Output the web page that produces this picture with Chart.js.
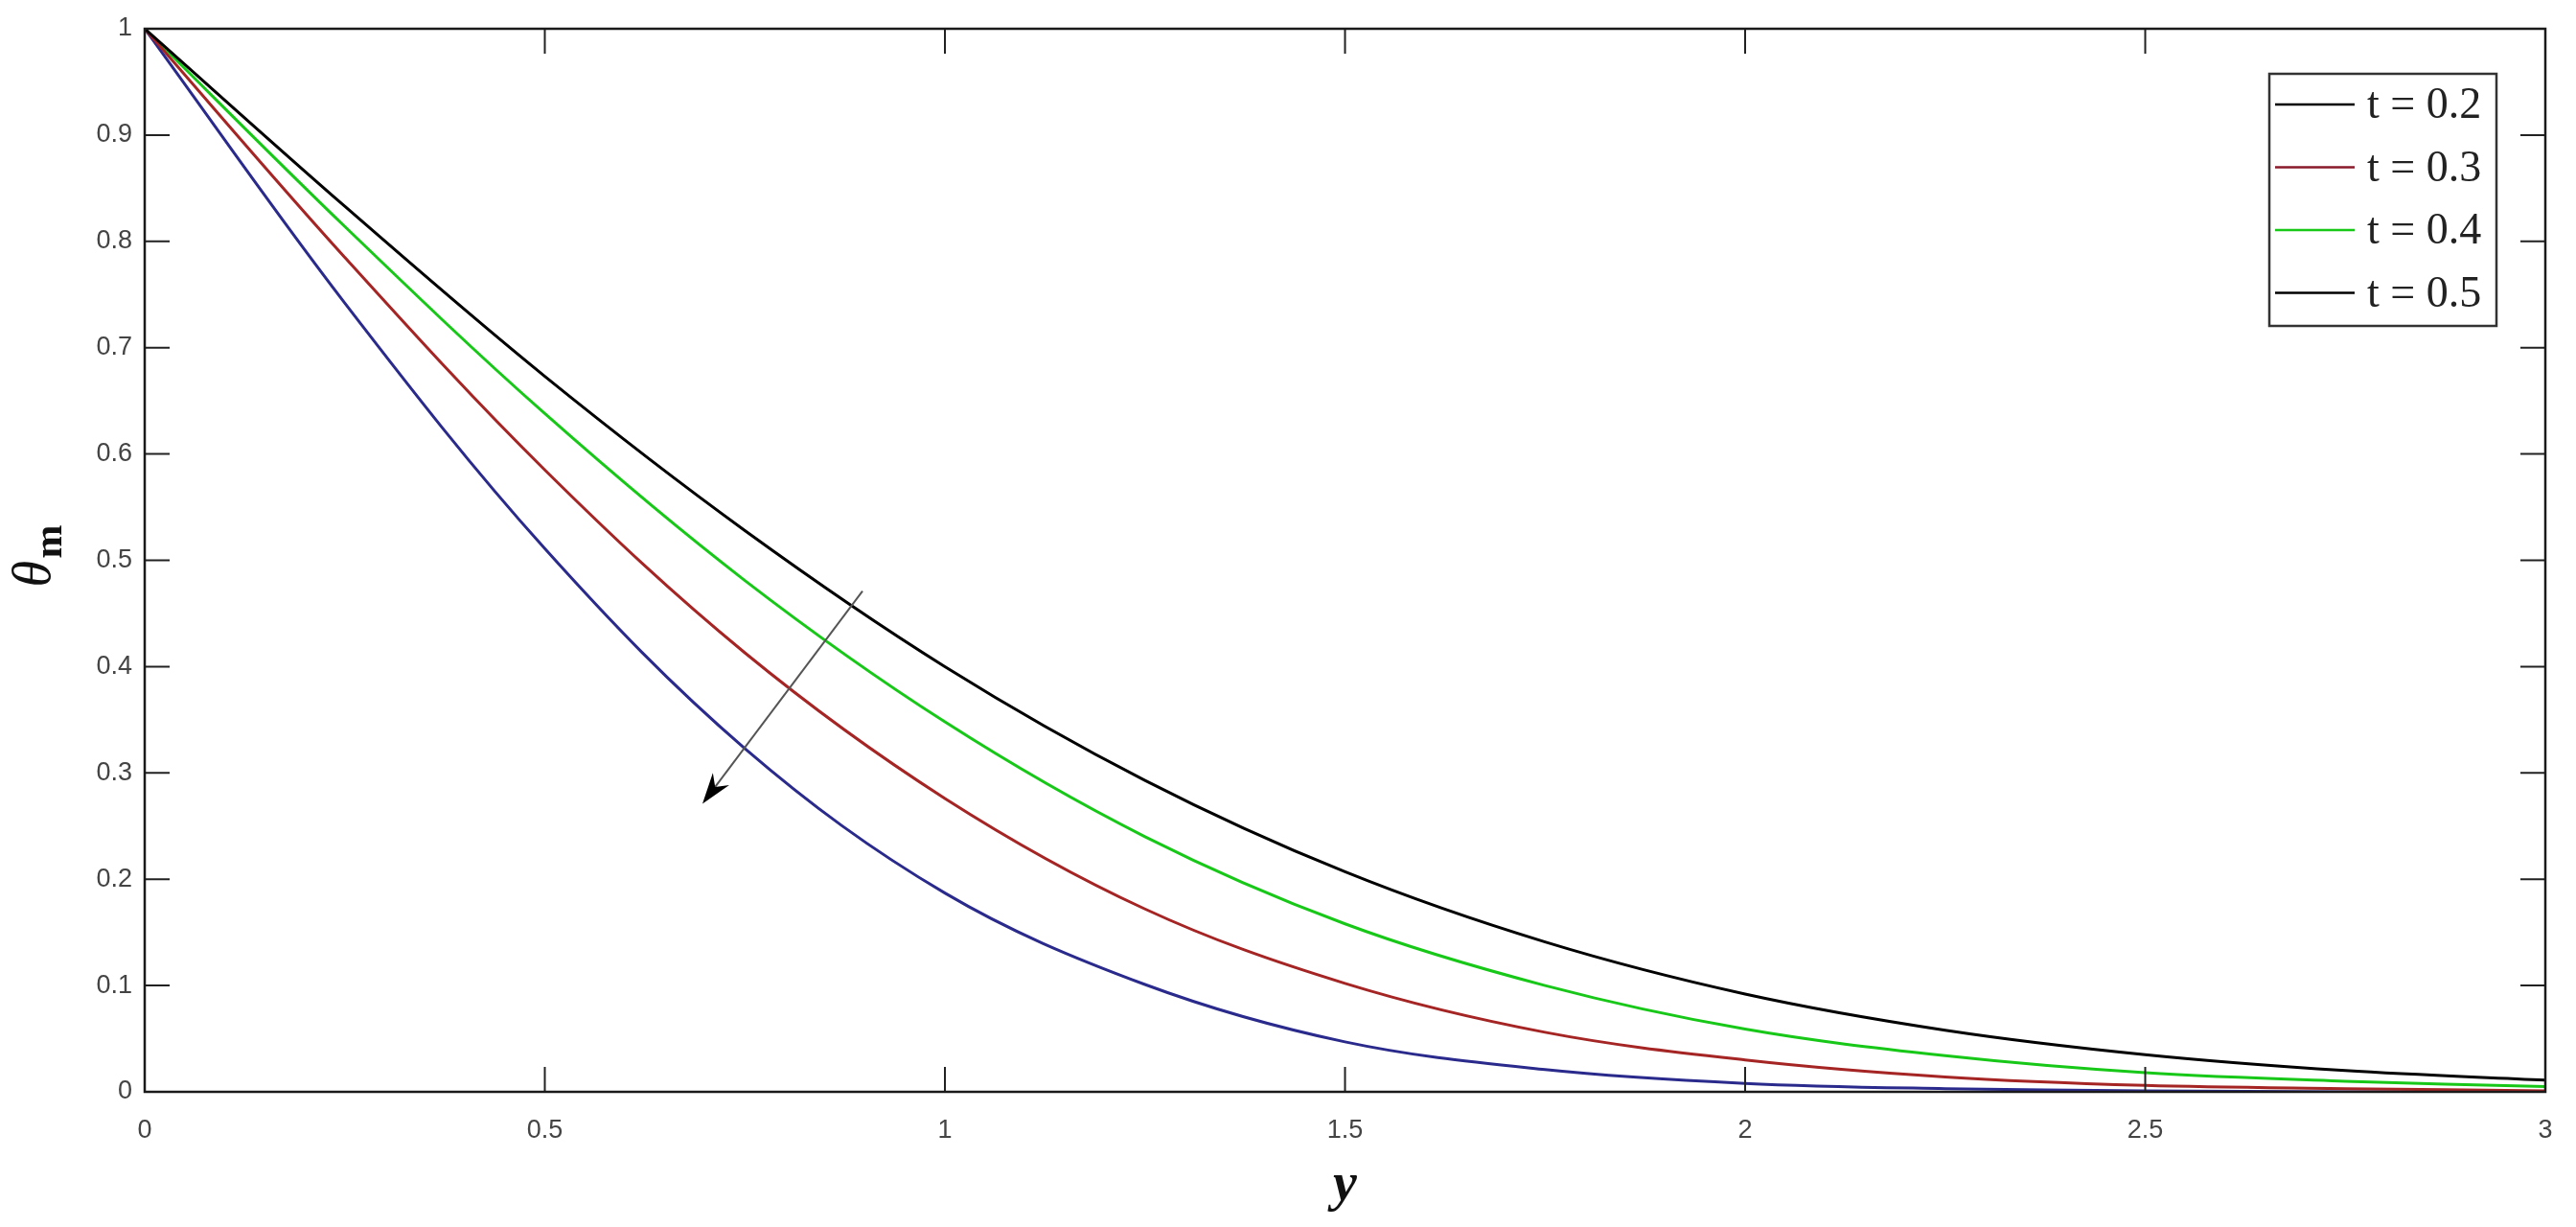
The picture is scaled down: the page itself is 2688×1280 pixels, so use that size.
<!DOCTYPE html>
<html>
<head>
<meta charset="utf-8">
<script src="https://cdn.jsdelivr.net/npm/chart.js@4.4.1/dist/chart.umd.min.js"></script>
<style>
  html, body { margin: 0; padding: 0; background: #fff; }
  canvas { display: block; }
</style>
</head>
<body>
<canvas id="chart" width="2688" height="1280"></canvas>
<script>
// values
const yPos   = [0, 0.25, 0.5, 0.75, 1, 1.25, 1.5, 1.75, 2, 2.25, 2.5, 2.75, 3];
const t02    = [1, 0.833, 0.673, 0.528, 0.400, 0.293, 0.207, 0.141, 0.092, 0.058, 0.035, 0.020, 0.011];
const t03    = [1, 0.785, 0.585, 0.413, 0.276, 0.172, 0.102, 0.056, 0.030, 0.014, 0.006, 0.003, 0.001];
const t04    = [1, 0.814, 0.638, 0.481, 0.348, 0.240, 0.158, 0.100, 0.059, 0.034, 0.018, 0.010, 0.005];
const t05    = [1, 0.742, 0.511, 0.323, 0.187, 0.101, 0.047, 0.021, 0.008, 0.003, 0.001, 0, 0];
const labels = ["t = 0.2", "t = 0.3", "t = 0.4", "t = 0.5"];
const lineColors   = ["#000000", "#a52424", "#18c818", "#2a2a8c"];
const legendColors = ["#000000", "#8a1a2a", "#18c818", "#000000"];
const xTicks = [0, 0.5, 1, 1.5, 2, 2.5, 3];
const yTicks = [0, 0.1, 0.2, 0.3, 0.4, 0.5, 0.6, 0.7, 0.8, 0.9, 1];
const arrowFrom = [0.897, 0.471];
const arrowTo   = [0.697, 0.271];

const series = [t02, t03, t04, t05];

function toPoints(arr) {
    return yPos.map((x, i) => ({ x: x, y: arr[i] }));
}

// box, inward ticks, legend, arrow, axis titles
const decor = {
    id: 'decor',
    afterDatasetsDraw(chart) {
        const c = chart.ctx;
        const a = chart.chartArea;
        const xs = chart.scales.x, ys = chart.scales.y;
        const tl = 26;
        c.save();

        // arrow
        const x1 = xs.getPixelForValue(arrowFrom[0]), y1 = ys.getPixelForValue(arrowFrom[1]);
        const x2 = xs.getPixelForValue(arrowTo[0]),   y2 = ys.getPixelForValue(arrowTo[1]);
        const ang = Math.atan2(y2 - y1, x2 - x1);
        c.strokeStyle = '#555';
        c.lineWidth = 2;
        c.beginPath();
        c.moveTo(x1, y1);
        c.lineTo(x2 - 18 * Math.cos(ang), y2 - 18 * Math.sin(ang));
        c.stroke();
        c.fillStyle = '#000';
        c.beginPath();
        c.moveTo(x2, y2);
        c.lineTo(x2 - 34 * Math.cos(ang - 0.32), y2 - 34 * Math.sin(ang - 0.32));
        c.lineTo(x2 - 22 * Math.cos(ang), y2 - 22 * Math.sin(ang));
        c.lineTo(x2 - 34 * Math.cos(ang + 0.32), y2 - 34 * Math.sin(ang + 0.32));
        c.closePath();
        c.fill();

        // ticks
        c.strokeStyle = '#222';
        c.lineWidth = 2;
        c.beginPath();
        xTicks.forEach(v => {
            const px = xs.getPixelForValue(v);
            c.moveTo(px, a.bottom); c.lineTo(px, a.bottom - tl);
            c.moveTo(px, a.top);    c.lineTo(px, a.top + tl);
        });
        yTicks.forEach(v => {
            const py = ys.getPixelForValue(v);
            c.moveTo(a.left, py);  c.lineTo(a.left + tl, py);
            c.moveTo(a.right, py); c.lineTo(a.right - tl, py);
        });
        c.stroke();

        // box
        c.lineWidth = 2.5;
        c.strokeStyle = '#1a1a1a';
        c.strokeRect(a.left, a.top, a.right - a.left, a.bottom - a.top);

        // legend
        const lx = 2368, ly = 77, lw = 237, lh = 263;
        c.fillStyle = '#fff';
        c.fillRect(lx, ly, lw, lh);
        c.strokeStyle = '#333';
        c.lineWidth = 2.5;
        c.strokeRect(lx, ly, lw, lh);
        c.font = '46px "Liberation Serif"';
        c.textBaseline = 'middle';
        c.textAlign = 'left';
        labels.forEach((lab, i) => {
            const ry = ly + 32 + i * 65.5;
            c.strokeStyle = legendColors[i];
            c.lineWidth = 2.5;
            c.beginPath();
            c.moveTo(lx + 6, ry); c.lineTo(lx + 89, ry);
            c.stroke();
            c.fillStyle = '#222';
            c.fillText(lab, lx + 102, ry + 2);
        });

        // x title
        c.fillStyle = '#111';
        c.font = 'italic bold 56px "Liberation Serif"';
        c.textAlign = 'center';
        c.textBaseline = 'alphabetic';
        c.fillText('y', (a.left + a.right) / 2, 1252);

        // y title (rotated)
        c.translate(52, (a.top + a.bottom) / 2);
        c.rotate(-Math.PI / 2);
        c.font = 'italic 56px "Liberation Serif"';
        c.textAlign = 'left';
        c.fillText('θ', -28, 0);
        c.font = 'bold 42px "Liberation Serif"';
        c.fillText('m', 2, 12);
        c.restore();
    }
};

const ctx = document.getElementById('chart');

new Chart(ctx, {
    type: 'line',
    data: {
        datasets: series.map((arr, i) => ({
            label: labels[i],
            data: toPoints(arr),
            borderColor: lineColors[i],
            borderWidth: 3,
            pointRadius: 0,
            fill: false,
            tension: 0.35
        }))
    },
    options: {
        responsive: false,
        animation: false,
        devicePixelRatio: 1,
        layout: { padding: { left: 0, right: 32, top: 30, bottom: 0 } },
        plugins: {
            legend: { display: false },
            tooltip: { enabled: false }
        },
        scales: {
            x: {
                type: 'linear',
                min: 0, max: 3,
                grid: { display: false, drawTicks: false },
                border: { display: false },
                afterBuildTicks: s => { s.ticks = xTicks.map(v => ({ value: v })); },
                afterFit: s => { s.height = 141; },
                ticks: {
                    padding: 24,
                    color: '#444',
                    font: { family: 'Liberation Sans', size: 27 },
                    maxRotation: 0,
                    callback: v => String(v)
                }
            },
            y: {
                type: 'linear',
                min: 0, max: 1,
                grid: { display: false, drawTicks: false },
                border: { display: false },
                afterBuildTicks: s => { s.ticks = yTicks.map(v => ({ value: v })); },
                afterFit: s => { s.width = 151; },
                ticks: {
                    padding: 13,
                    color: '#444',
                    font: { family: 'Liberation Sans', size: 27 },
                    callback: v => String(v)
                }
            }
        }
    },
    plugins: [decor]
});
</script>
</body>
</html>
